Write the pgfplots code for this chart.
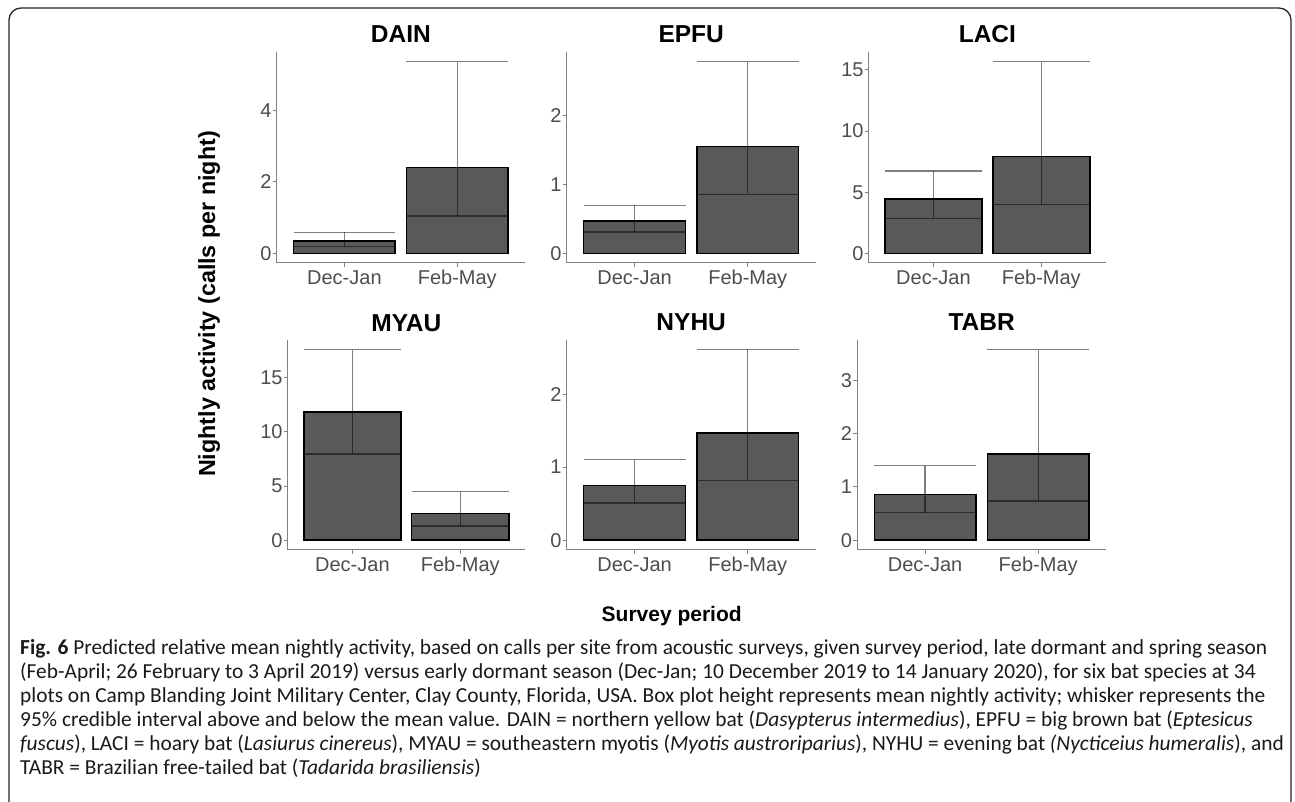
\documentclass[border=0pt]{standalone}
\usepackage{fontspec}
\setmainfont{Liberation Sans}
\newfontfamily\capfont{Carlito}
\usepackage{pgfplots}
\pgfplotsset{compat=1.18}
\usepackage{pgfplotstable}

\definecolor{barfill}{HTML}{595959}
\definecolor{axgray}{HTML}{808080}
\definecolor{ticktext}{HTML}{4D4D4D}

% columns: period position, mean, lower and upper 95% credible limit
\pgfplotstableread{
x mean lo hi
1 0.35 0.185 0.59
2 2.40 1.05 5.37
}\dain
\pgfplotstableread{
x mean lo hi
1 0.47 0.31 0.70
2 1.55 0.86 2.785
}\epfu
\pgfplotstableread{
x mean lo hi
1 4.44 2.86 6.73
2 7.90 3.98 15.68
}\laci
\pgfplotstableread{
x mean lo hi
1 11.84 7.95 17.6
2 2.46 1.32 4.48
}\myau
\pgfplotstableread{
x mean lo hi
1 0.75 0.51 1.10
2 1.464 0.818 2.61
}\nyhu
\pgfplotstableread{
x mean lo hi
1 0.855 0.52 1.40
2 1.616 0.737 3.585
}\tabr

\pgfplotsset{
  batpanel/.style={
    scale only axis,
    xmin=0.4, xmax=2.6,
    xtick={1,2}, xticklabels={Dec-Jan,Feb-May},
    axis x line*=bottom, axis y line*=left,
    axis line style={axgray, line width=1pt, -},
    tick style={axgray, line width=1pt},
    major tick length=4pt, tick align=outside,
    ticklabel style={font=\fontsize{20}{24}\selectfont, text=ticktext},
    xticklabel style={inner sep=0pt, anchor=base, yshift=-17.5pt},
    yticklabel style={inner sep=0pt, xshift=-1pt},
    /pgf/number format/assume math mode=true,
  },
}

% #1 title, #2 table, #3 x, #4 y (south west of box), #5 width, #6 height,
% #7 ymin, #8 ymax, #9 yticks
\newcommand\panel[9]{%
  \pgfmathsetmacro\capsz{0.45*#5/2.2}%
  \begin{axis}[batpanel, name=ax, at={(#3pt,#4pt)}, anchor=south west,
      width=#5pt, height=#6pt, ymin=#7, ymax=#8, ytick={#9}]
    \addplot[ybar, bar width=0.9, fill=barfill, draw=black, line width=1.5pt]
      table[x=x, y=mean] {#2};
    \addplot[draw=none, mark=none,
      error bars/.cd, y dir=both, y explicit, error mark=|,
      error bar style={draw=black, opacity=0.5, line width=1.3pt},
      error mark options={draw=black, opacity=0.5, line width=1.3pt,
        mark size=\capsz pt}]
      table[x=x, y=mean,
        y error plus expr=\thisrow{hi}-\thisrow{mean},
        y error minus expr=\thisrow{mean}-\thisrow{lo}] {#2};
  \end{axis}%
  \node[anchor=base, inner sep=0pt, font=\bfseries\fontsize{24.5}{28}\selectfont]
    at ([yshift=9pt]ax.north) {#1};%
}

\begin{document}
\begin{tikzpicture}
\useasboundingbox (0pt,0pt) rectangle (1295pt,801pt);
\draw[line width=1.3pt, rounded corners=12pt, black!85]
  (9pt,-10pt) -- (9pt,793pt) -- (1291pt,793pt) -- (1291pt,-10pt);

\panel{DAIN}{\dain}{276.7}{538}{248.3}{211}{-0.27}{5.64}{0,2,4}
\panel{EPFU}{\epfu}{566.7}{538}{249}{211}{-0.139}{2.924}{0,1,2}
\panel{LACI}{\laci}{868.7}{538}{237.3}{211}{-0.784}{16.46}{0,5,10,15}
\panel{MYAU}{\myau}{287.7}{251.3}{237.3}{209.7}{-0.88}{18.48}{0,5,10,15}
\panel{NYHU}{\nyhu}{566.7}{251.3}{249}{209.7}{-0.1305}{2.74}{0,1,2}
\panel{TABR}{\tabr}{857.3}{251.3}{248.7}{209.7}{-0.179}{3.764}{0,1,2,3}

\node[rotate=90, anchor=base, font=\bfseries\fontsize{23.3}{27}\selectfont]
  at (215pt,497pt) {Nightly activity (calls per night)};
\node[anchor=base, font=\bfseries\fontsize{21}{25}\selectfont]
  at (671.7pt,180pt) {Survey period};

\begin{scope}[every node/.style={anchor=base west, inner sep=0pt,
    font=\capfont\fontsize{21.4}{24}\selectfont, text=black!90}]
\node at (20pt,147pt) {\textbf{Fig. 6} Predicted relative mean nightly activity, based on calls per site from acoustic surveys, given survey period, late dormant and spring season};
\node at (20pt,123pt) {(Feb-April; 26 February to 3 April 2019) versus early dormant season (Dec-Jan; 10 December 2019 to 14 January 2020), for six bat species at 34};
\node at (20pt,99pt) {plots on Camp Blanding Joint Military Center, Clay County, Florida, USA. Box plot height represents mean nightly activity; whisker represents the};
\node at (20pt,75pt) {95\% credible interval above and below the mean value. DAIN = northern yellow bat (\textit{Dasypterus intermedius}), EPFU = big brown bat (\textit{Eptesicus}};
\node at (20pt,51pt) {\textit{fuscus}), LACI = hoary bat (\textit{Lasiurus cinereus}), MYAU = southeastern myotis (\textit{Myotis austroriparius}), NYHU = evening bat \textit{(Nycticeius humeralis}), and};
\node at (20pt,27pt) {TABR = Brazilian free-tailed bat (\textit{Tadarida brasiliensis})};
\end{scope}
\end{tikzpicture}
\end{document}
